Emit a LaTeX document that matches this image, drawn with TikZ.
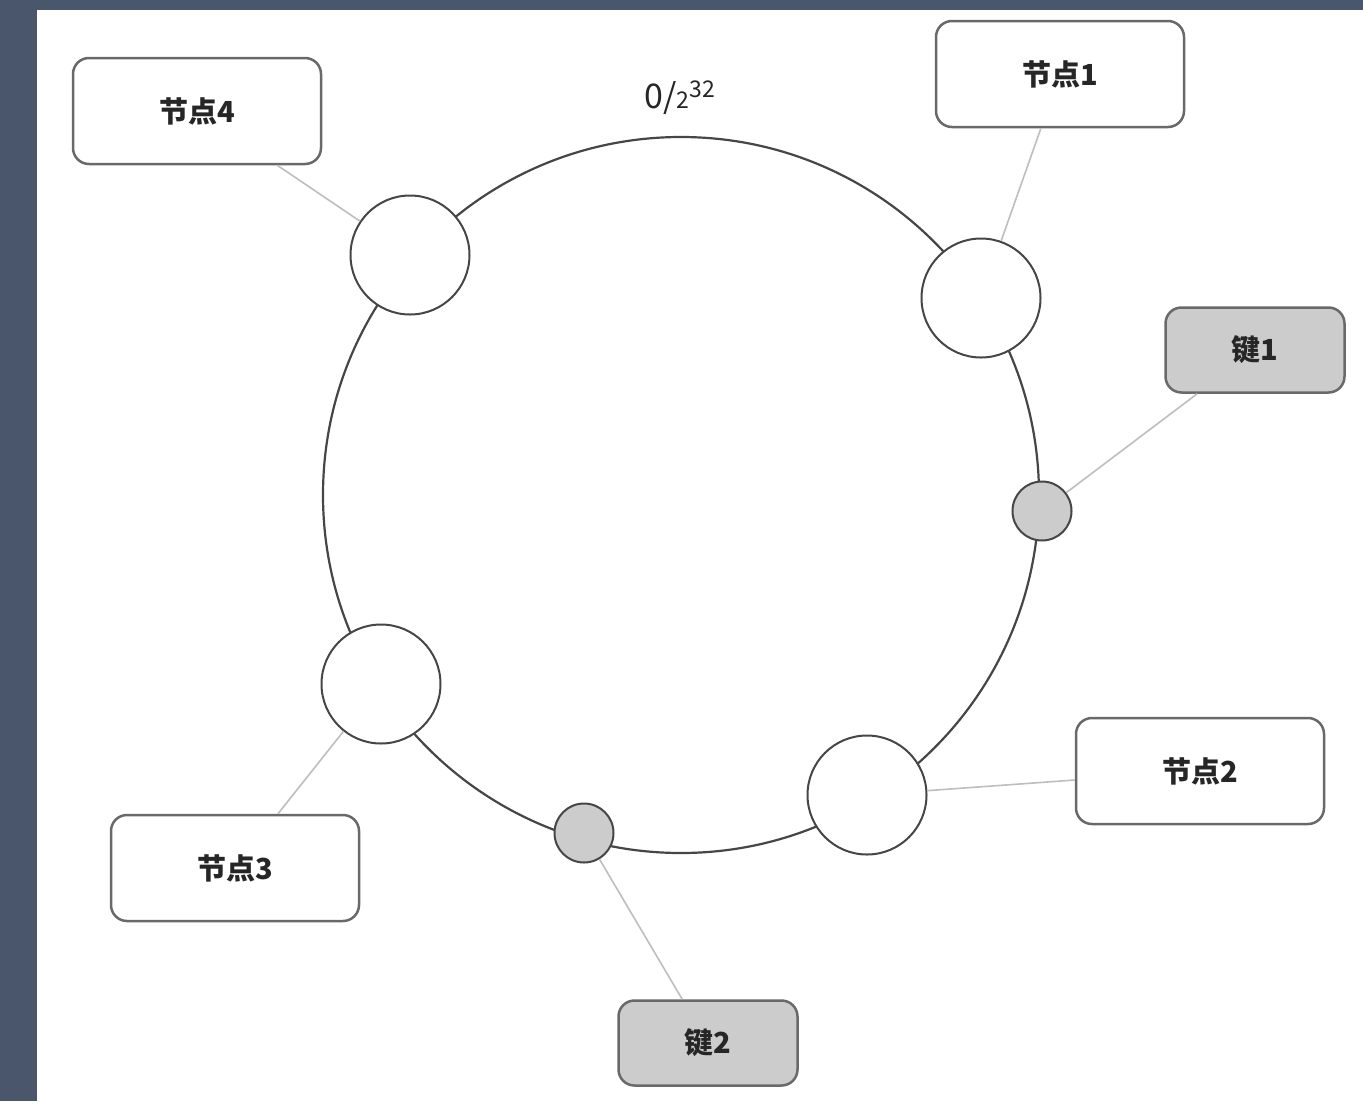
\documentclass[tikz,border=0pt]{standalone}
\usepackage{fontspec}
\setmainfont{Noto Sans CJK SC}
\definecolor{frame}{RGB}{74,86,108}
\definecolor{ringline}{RGB}{70,70,70}
\definecolor{boxline}{RGB}{105,105,105}
\definecolor{keyfill}{RGB}{204,204,204}
\definecolor{linkline}{RGB}{190,190,190}
\begin{document}
\begin{tikzpicture}[x=1pt,y=-1pt,
  slot/.style={circle, draw=ringline, line width=2pt, fill=white,
    minimum size=119pt, inner sep=0pt},
  keydot/.style={circle, draw=ringline, line width=2pt, fill=keyfill,
    minimum size=59pt, inner sep=0pt},
  nodebox/.style={rectangle, rounded corners=16pt, draw=boxline,
    line width=2.5pt, fill=white, minimum width=248pt, minimum height=106pt,
    inner sep=0pt, text=black!85, font=\fontsize{29}{34}\selectfont\bfseries},
  keybox/.style={nodebox, fill=keyfill, minimum width=179pt,
    minimum height=85pt},
  link/.style={draw=linkline, line width=1.6pt}]

% page and frame
\fill[frame] (0,0) rectangle (1363,1101);
\fill[white] (37,10) rectangle (1363,1101);
\useasboundingbox (0,0) rectangle (1363,1101);

% hash ring
\draw[ringline, line width=2.2pt] (681,495) circle[radius=358];

% points on the ring
\node[slot]   (p4) at (410,255) {};
\node[slot]   (p1) at (981,298) {};
\node[keydot] (k1) at (1042,511) {};
\node[slot]   (p2) at (867,795) {};
\node[keydot] (k2) at (584,833) {};
\node[slot]   (p3) at (381,684) {};

% labels
\node[nodebox] (b4) at (197,111)  {节点4};
\node[nodebox] (b1) at (1060,74)  {节点1};
\node[keybox]  (c1) at (1255,350) {键1};
\node[nodebox] (b2) at (1200,771) {节点2};
\node[nodebox] (b3) at (235,868)  {节点3};
\node[keybox]  (c2) at (708,1043) {键2};

% leader lines
\draw[link] (b4) -- (p4);
\draw[link] (b1) -- (p1);
\draw[link] (c1) -- (k1);
\draw[link] (b2) -- (p2);
\draw[link] (b3) -- (p3);
\draw[link] (c2) -- (k2);

% origin mark of the ring
\node[anchor=base, inner sep=0pt, text=black!85] (zero) at (680,108)
  {\fontsize{34}{34}\selectfont 0/\fontsize{23}{23}\selectfont 2\raisebox{11pt}{32}};
\end{tikzpicture}
\end{document}
